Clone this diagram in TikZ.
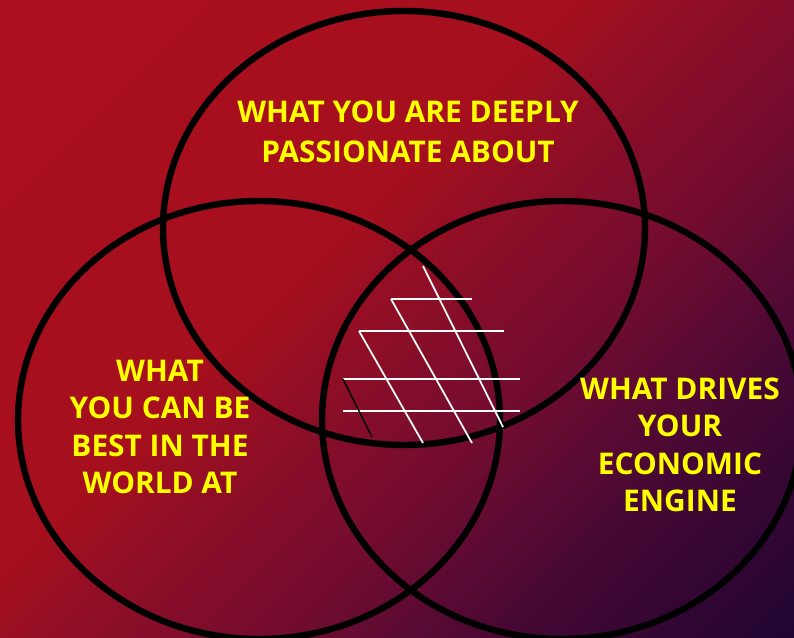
\documentclass[tikz,border=0pt]{standalone}
\usepackage{fontspec}
\setmainfont{Open Sans}
\usepackage{tikz}
\usetikzlibrary{calc}
\usetikzlibrary{positioning}
\usetikzlibrary{shadings}

\definecolor{bgStopA}{RGB}{172,16,30}
\definecolor{bgStopB}{RGB}{165,15,30}
\definecolor{bgStopC}{RGB}{142,14,38}
\definecolor{bgStopD}{RGB}{112,12,48}
\definecolor{bgStopE}{RGB}{70,8,52}
\definecolor{bgStopF}{RGB}{32,5,48}
\definecolor{labelYellow}{RGB}{255,255,0}
\pgfdeclarehorizontalshading{bgDiagonal}{100bp}{color(0bp)=(bgStopA); color(14.6bp)=(bgStopA); color(42.9bp)=(bgStopB); color(50bp)=(bgStopC); color(60.6bp)=(bgStopD); color(71.2bp)=(bgStopE); color(85.3bp)=(bgStopF); color(100bp)=(bgStopF)}

\begin{document}
\begin{tikzpicture}[x=0.03cm, y=-0.03cm,
    vennCircle/.style={draw=black, line width=5.5pt},
    vennLabel/.style={text=labelYellow, align=center, inner sep=0pt, font=\fontsize{25.5}{32}\selectfont\bfseries},
    hatchLine/.style={draw=white, line width=1.5pt}]
    \useasboundingbox (0,0) rectangle (794,637);
    \shade [shading=bgDiagonal, shading angle=-45] (0,0) rectangle (794,637);

    % the three circles
    \draw [vennCircle] (404,228) ellipse [x radius=241, y radius=217];
    \draw [vennCircle] (259,420) ellipse [x radius=241, y radius=219];
    \draw [vennCircle] (562,420) ellipse [x radius=240, y radius=219];

    % hatching of the middle
    \coordinate (h1a) at (391,299); \coordinate (h1b) at (472,299);
    \coordinate (h2a) at (359,331); \coordinate (h2b) at (504,331);
    \coordinate (h3a) at (343,379); \coordinate (h3b) at (520,379);
    \coordinate (h4a) at (343,411); \coordinate (h4b) at (520,411);
    \draw [hatchLine] (h1a) -- (h1b);
    \draw [hatchLine] (h2a) -- (h2b);
    \draw [hatchLine] (h3a) -- (h3b);
    \draw [hatchLine] (h4a) -- (h4b);
    \draw [hatchLine] (423,266) -- (503,427);
    \draw [hatchLine] (h1a) -- (472,443);
    \draw [hatchLine] (h2a) -- (423,443);
    \draw [line width=1.2pt, black] (h3a) -- (372,437);

    % labels
    \node [vennLabel, font=\fontsize{25.5}{34}\selectfont\bfseries] (passion) at (408,132) {WHAT YOU ARE DEEPLY\\PASSIONATE ABOUT};
    \node [vennLabel] (bestAt) at (160,427) {WHAT\\YOU CAN BE\\BEST IN THE\\WORLD AT};
    \node [vennLabel] (engine) at (680,445) {WHAT DRIVES\\YOUR\\ECONOMIC\\ENGINE};
\end{tikzpicture}
\end{document}
